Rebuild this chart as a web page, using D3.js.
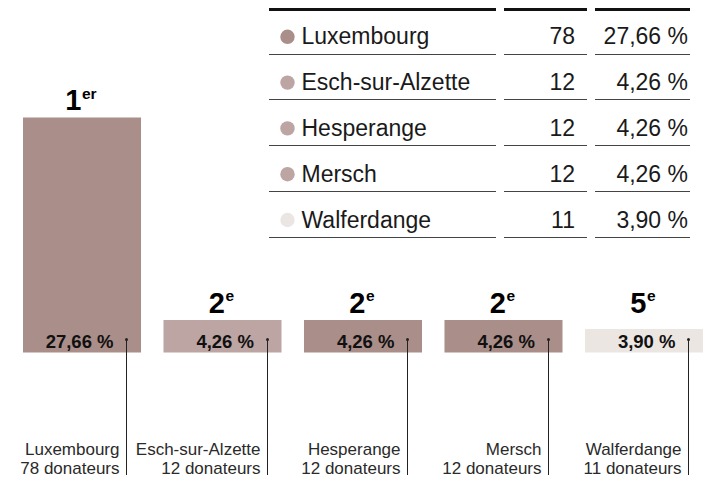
<!DOCTYPE html>
<html>
<head>
<meta charset="utf-8">
<script src="https://cdn.jsdelivr.net/npm/d3@7"></script>
<style>
  html, body { margin: 0; padding: 0; background: #fff; }
  svg { display: block; font-family: "Helvetica Neue", Helvetica, Arial, "Liberation Sans", sans-serif; }
</style>
</head>
<body>
<svg id="chart" width="707" height="478"></svg>
<script>
// ---- data ----
const communes = ["Luxembourg", "Esch-sur-Alzette", "Hesperange", "Mersch", "Walferdange"];
const donors   = [78, 12, 12, 12, 11];
const percents = [27.66, 4.26, 4.26, 4.26, 3.90];
const ranks    = ["1", "2", "2", "2", "5"];
const rankSuffixes = ["er", "e", "e", "e", "e"];
const barColors = ["#aa8e89", "#bca5a2", "#aa8e89", "#aa8e89", "#ece6e3"];
const dotColors = ["#aa8e89", "#bca5a2", "#bca5a2", "#bca5a2", "#ebe6e3"];
const unitLabel = "donateurs";

// ---- setup ----
const svg = d3.select("#chart");
const fr = d3.formatLocale({ decimal: ",", thousands: " ", grouping: [3], currency: ["", " €"] });
const fmtPct = v => fr.format(".2f")(v) + " %";

const baseY = 352.5;
const x = d3.scaleBand().domain(communes).range([23, 703]).paddingInner(0.16).paddingOuter(0);
// bar heights (polylinear scale on donor counts)
const h = d3.scaleLinear().domain([11, 12, 78]).range([23.5, 32.5, 235]);
const minLabelH = 32.5;

const g = svg.append("g");
const items = communes.map((c, i) => ({ c, i, n: donors[i], p: percents[i], r: ranks[i], s: rankSuffixes[i] }));

// bars
g.selectAll("rect.bar").data(items).join("rect")
  .attr("class", "bar")
  .attr("x", d => x(d.c))
  .attr("y", d => baseY - h(d.n))
  .attr("width", x.bandwidth())
  .attr("height", d => h(d.n))
  .attr("fill", d => barColors[d.i]);

// rank labels
const rk = g.selectAll("text.rank").data(items).join("text")
  .attr("class", "rank")
  .attr("x", d => x(d.c) + x.bandwidth() / 2 - 1)
  .attr("y", d => baseY - Math.max(h(d.n), minLabelH) - 7.5)
  .attr("text-anchor", "middle")
  .attr("font-weight", "bold")
  .attr("fill", "#000");
rk.append("tspan").attr("font-size", 29).text(d => d.r);
rk.append("tspan").attr("font-size", 15.5).attr("dy", -11.5).attr("dx", 0.5).text(d => d.s);

// percent labels inside bars
g.selectAll("text.pct").data(items).join("text")
  .attr("class", "pct")
  .attr("x", d => x(d.c) + x.bandwidth() - 27.5)
  .attr("y", 347.5)
  .attr("text-anchor", "end")
  .attr("font-weight", "bold")
  .attr("font-size", 18.5)
  .attr("fill", "#111")
  .text(d => fmtPct(d.p));

// leader lines
const lx = d => Math.round(x(d.c) + x.bandwidth() - 15) + 0.5;
g.selectAll("line.lead").data(items).join("line")
  .attr("class", "lead")
  .attr("x1", lx).attr("x2", lx)
  .attr("y1", 339.5).attr("y2", 475)
  .attr("stroke", "#222").attr("stroke-width", 1);
g.selectAll("circle.lead").data(items).join("circle")
  .attr("class", "lead")
  .attr("cx", lx).attr("cy", 339.5).attr("r", 1.5)
  .attr("fill", "#222");

// bottom labels (two lines each)
g.selectAll("text.bl1").data(items).join("text")
  .attr("class", "bl1")
  .attr("x", d => lx(d) - 7).attr("y", 454.5)
  .attr("text-anchor", "end")
  .attr("font-size", 17)
  .attr("fill", "#2a2a2a")
  .text(d => d.c);
g.selectAll("text.bl2").data(items).join("text")
  .attr("class", "bl2")
  .attr("x", d => lx(d) - 7).attr("y", 473.5)
  .attr("text-anchor", "end")
  .attr("font-size", 17)
  .attr("fill", "#2a2a2a")
  .text(d => d.n + " " + unitLabel);

// ---- table ----
const cols = [[269, 496], [504, 587], [595, 690]];
const tTop = 9.5, rowH = 45.8, firstLine = 53.5;
const tg = svg.append("g");
cols.forEach(([a, b]) => {
  tg.append("line").attr("x1", a).attr("x2", b).attr("y1", tTop).attr("y2", tTop)
    .attr("stroke", "#111").attr("stroke-width", 3);
});
const rowY = i => firstLine + i * rowH;
items.forEach(d => {
  const ly = Math.round(rowY(d.i)) + 0.5;
  cols.forEach(([a, b]) => {
    tg.append("line").attr("x1", a).attr("x2", b).attr("y1", ly).attr("y2", ly)
      .attr("stroke", "#444").attr("stroke-width", 1);
  });
  const ty = rowY(d.i) - 9.2;
  tg.append("circle").attr("cx", 287.5).attr("cy", ty - 7.5).attr("r", 7.2).attr("fill", dotColors[d.i]);
  tg.append("text").attr("x", 301.5).attr("y", ty).attr("font-size", 23).attr("fill", "#1a1a1a").text(d.c);
  tg.append("text").attr("x", 575).attr("y", ty).attr("font-size", 23).attr("text-anchor", "end").attr("fill", "#1a1a1a").text(d.n);
  tg.append("text").attr("x", 688).attr("y", ty).attr("font-size", 23).attr("text-anchor", "end").attr("fill", "#1a1a1a").text(fmtPct(d.p));
});
</script>
</body>
</html>
